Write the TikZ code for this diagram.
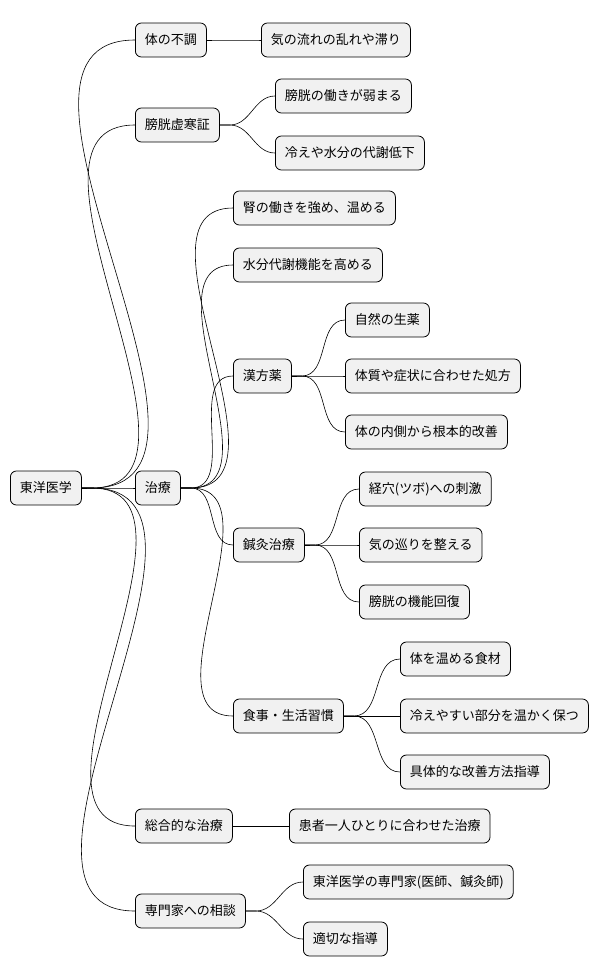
\documentclass[tikz,border=0pt]{standalone}
\usepackage{fontspec}
\setmainfont{Noto Sans CJK JP}
\usetikzlibrary{positioning}
\definecolor{boxfill}{RGB}{241,241,241}

\begin{document}
\begin{tikzpicture}[
    x=1pt, y=-1pt,
    topic/.style={rectangle, draw, fill=boxfill, rounded corners=6pt, anchor=west, minimum height=34pt, inner xsep=9.5pt, font=\fontsize{13}{15}\selectfont, line width=0.8pt},
    link/.style={line width=0.6pt}
]
\useasboundingbox (0,0) rectangle (614,978);

% Root
\node[topic] (root) at (10,488) {東洋医学};

% First level
\node[topic] (fucho) at (135,40) {体の不調};
\node[topic] (kyokan) at (135,125) {膀胱虚寒証};
\node[topic] (chiryo) at (135,488) {治療};
\node[topic] (sogo) at (135,826) {総合的な治療};
\node[topic] (sodan) at (135,911) {専門家への相談};

% Second level
\node[topic] (nagare) at (261,40) {気の流れの乱れや滞り};
\node[topic] (hataraki) at (275,96) {膀胱の働きが弱まる};
\node[topic] (hie) at (275,153) {冷えや水分の代謝低下};
\node[topic] (jin) at (233,208) {腎の働きを強め、温める};
\node[topic] (suibun) at (233,265) {水分代謝機能を高める};
\node[topic] (kanpo) at (233,376) {漢方薬};
\node[topic] (shinkyu) at (233,545) {鍼灸治療};
\node[topic] (shokuji) at (233,716) {食事・生活習慣};
\node[topic] (kanja) at (289,826) {患者一人ひとりに合わせた治療};
\node[topic] (senmonka) at (303,882) {東洋医学の専門家(医師、鍼灸師)};
\node[topic] (shido) at (303,939) {適切な指導};

% Third level
\node[topic] (shoyaku) at (345,320) {自然の生薬};
\node[topic] (shoho) at (345,376) {体質や症状に合わせた処方};
\node[topic] (kaizen) at (345,432) {体の内側から根本的改善};
\node[topic] (keiketsu) at (359,489) {経穴(ツボ)への刺激};
\node[topic] (meguri) at (359,545) {気の巡りを整える};
\node[topic] (kaifuku) at (359,602) {膀胱の機能回復};
\node[topic] (shokuzai) at (400,659) {体を温める食材};
\node[topic] (tamotsu) at (400,716) {冷えやすい部分を温かく保つ};
\node[topic] (gutai) at (400,772) {具体的な改善方法指導};

% Links
\foreach \p/\c in {root/fucho, root/kyokan, root/chiryo, root/sogo, root/sodan,
    fucho/nagare, kyokan/hataraki, kyokan/hie,
    chiryo/jin, chiryo/suibun, chiryo/kanpo, chiryo/shinkyu, chiryo/shokuji,
    kanpo/shoyaku, kanpo/shoho, kanpo/kaizen,
    shinkyu/keiketsu, shinkyu/meguri, shinkyu/kaifuku,
    shokuji/shokuzai, shokuji/tamotsu, shokuji/gutai,
    sogo/kanja, sodan/senmonka, sodan/shido}
  \draw[link] (\p.east) -- ++(10,0) to[out=0,in=180] (\c.west);

\end{tikzpicture}
\end{document}
